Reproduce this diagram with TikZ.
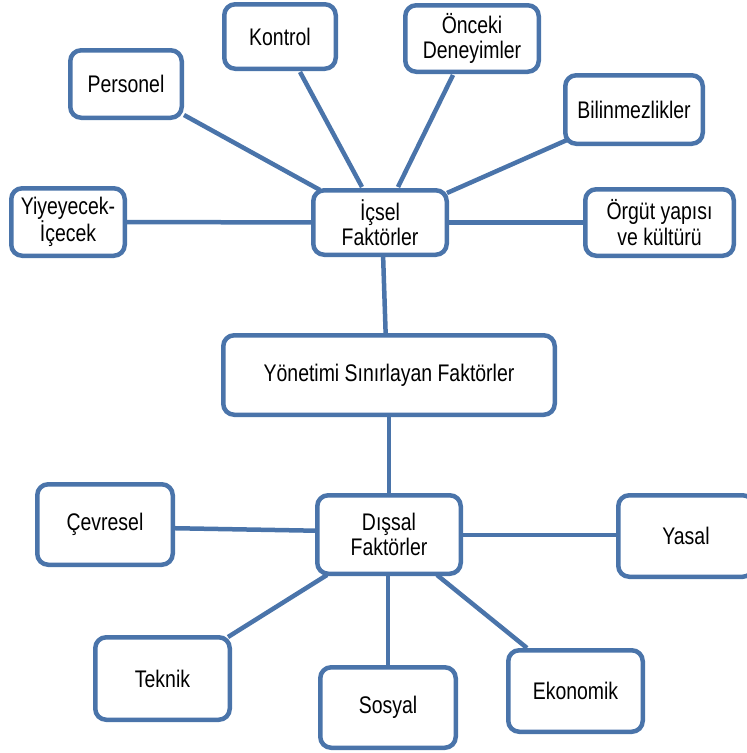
\documentclass[tikz,border=0pt]{standalone}
\usepackage{fontspec}
\setmainfont[FakeStretch=0.81]{Liberation Sans}
\usetikzlibrary{calc,backgrounds}
\definecolor{bc}{RGB}{74,116,170}
\tikzset{
  fbox/.style={draw=bc, line width=4.5pt, rounded corners=11pt, fill=white,
    inner sep=0pt, align=center, text=black,
    font=\fontsize{24}{25.5}\selectfont},
  conn/.style={draw=bc, line width=4.5pt}
}
\begin{document}
\begin{tikzpicture}[x=1pt,y=-1pt]
\useasboundingbox (0,0) rectangle (747,753);
\clip (0,0) rectangle (747,753);
\node[fbox, minimum width=111.5pt, minimum height=64.5pt] (kontrol) at (280,36.5) {Kontrol};
\node[fbox, minimum width=133.5pt, minimum height=66.5pt] (onceki) at (472,38.5) {Önceki\\Deneyimler};
\node[fbox, minimum width=111.5pt, minimum height=67.5pt] (personel) at (126,84) {Personel};
\node[fbox, minimum width=137.5pt, minimum height=68.5pt] (bilin) at (634,109.5) {Bilinmezlikler};
\node[fbox, minimum width=113.5pt, minimum height=67.5pt] (yiy) at (68,222) {Yiyeyecek-\\İçecek};
\node[fbox, minimum width=133.5pt, minimum height=64.5pt] (icsel) at (380,222.5) {İçsel\\Faktörler};
\node[fbox, minimum width=148.5pt, minimum height=66.5pt] (orgut) at (659.5,222.5) {Örgüt yapısı\\ve kültürü};
\node[fbox, minimum width=331.5pt, minimum height=79.5pt] (yon) at (389,375) {Yönetimi Sınırlayan Faktörler};
\node[fbox, minimum width=135.5pt, minimum height=80.5pt] (cev) at (105,524.5) {Çevresel};
\node[fbox, minimum width=143.5pt, minimum height=78.5pt] (dis) at (389,534.5) {Dışsal\\Faktörler};
\node[fbox, minimum width=135.5pt, minimum height=81.5pt] (yasal) at (686,536) {Yasal};
\node[fbox, minimum width=134.5pt, minimum height=82.5pt] (teknik) at (162.5,678.5) {Teknik};
\node[fbox, minimum width=135.5pt, minimum height=80.5pt] (sosyal) at (388,707.5) {Sosyal};
\node[fbox, minimum width=134.5pt, minimum height=81.5pt] (eko) at (575.5,691) {Ekonomik};
\begin{pgfonlayer}{background}
\draw[conn] ($(personel.center)+(58,31)$) -- ($(icsel.center)+(-60,-32.5)$);
\draw[conn] ($(kontrol.center)+(20,35.5)$) -- ($(icsel.center)+(-18,-35.5)$);
\draw[conn] ($(onceki.center)+(-19,36.5)$) -- ($(icsel.center)+(18,-35.5)$);
\draw[conn] ($(bilin.center)+(-67,30.5)$) -- ($(icsel.center)+(67,-29.5)$);
\draw[conn] (yiy.center) -- (icsel.center);
\draw[conn] (icsel.center) -- (orgut.center);
\draw[conn] ($(icsel.center)+(2,0)$) -- ($(yon.center)+(-2,0)$);
\draw[conn] (yon.center) -- (dis.center);
\draw[conn] ($(cev.center)+(0,2.5)$) -- ($(dis.center)+(0,-2.5)$);
\draw[conn] ($(teknik.center)+(65.5,-41.5)$) -- ($(dis.center)+(-62,40.5)$);
\draw[conn] ($(dis.center)+(-1,0)$) -- (sosyal.center);
\draw[conn] ($(dis.center)+(48,40.5)$) -- ($(eko.center)+(-48.5,-43)$);
\draw[conn] ($(dis.center)+(0,0.5)$) -- ($(yasal.center)+(0,-1)$);
\end{pgfonlayer}
\end{tikzpicture}
\end{document}
